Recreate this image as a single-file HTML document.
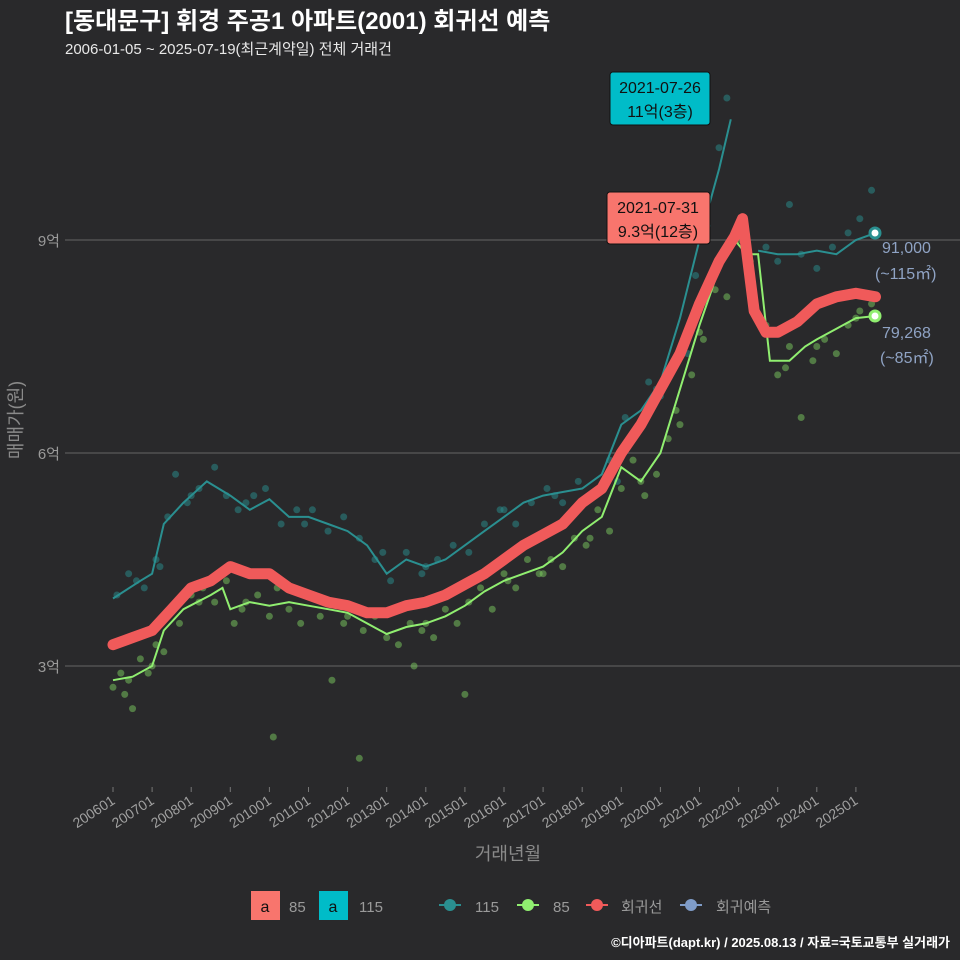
<!DOCTYPE html>
<html><head><meta charset="utf-8">
<style>
body{margin:0;background:#29292b;}
svg{display:block;font-family:"Liberation Sans","Noto Sans CJK KR",sans-serif;}
</style></head>
<body>
<svg id="chart" width="960" height="960" viewBox="0 0 960 960">
<rect width="960" height="960" fill="#29292b"/>
<text x="65" y="29" font-size="24" font-weight="bold" fill="#ffffff">[동대문구] 휘경 주공1 아파트(2001) 회귀선 예측</text>
<text x="65" y="54" font-size="15" fill="#e8e8e8">2006-01-05 ~ 2025-07-19(최근계약일) 전체 거래건</text>
<g id="grid"></g>
<g id="pts"></g>
<g id="lines"></g>
<g id="xaxis"></g>
<text transform="translate(22,420) rotate(-90)" text-anchor="middle" font-size="18" fill="#8a8a8a">매매가(원)</text>
<text x="508" y="860" text-anchor="middle" font-size="18" fill="#8a8a8a">거래년월</text>

<g>
<rect x="610" y="72" width="100" height="53" rx="3" fill="#00bcc8" stroke="#111"/>
<text x="660" y="93" text-anchor="middle" font-size="16" fill="#111">2021-07-26</text>
<text x="660" y="117" text-anchor="middle" font-size="16" fill="#111">11억(3층)</text>
</g>
<g>
<rect x="607" y="192" width="103" height="52" rx="3" fill="#f8756d" stroke="#111"/>
<text x="658" y="213" text-anchor="middle" font-size="16" fill="#111">2021-07-31</text>
<text x="658" y="237" text-anchor="middle" font-size="16" fill="#111">9.3억(12층)</text>
</g>
<g font-size="16" fill="#8fa3c4">
<text x="882" y="253">91,000</text>
<text x="875" y="279">(~115㎡)</text>
<text x="882" y="338">79,268</text>
<text x="880" y="363">(~85㎡)</text>
</g>
<circle cx="875" cy="233" r="5" fill="#fff" stroke="#2a8f90" stroke-width="3"/>
<circle cx="875" cy="316" r="5" fill="#fff" stroke="#90ee70" stroke-width="3"/>

<g font-size="15" fill="#9a9a9a">
<rect x="251" y="891" width="29" height="29" fill="#f8756d"/>
<text x="265" y="912" text-anchor="middle" fill="#111" font-size="16">a</text>
<text x="289" y="912">85</text>
<rect x="319" y="891" width="29" height="29" fill="#00bcc8"/>
<text x="333" y="912" text-anchor="middle" fill="#111" font-size="16">a</text>
<text x="359" y="912">115</text>
<line x1="439" y1="905" x2="461" y2="905" stroke="#2a8f90" stroke-width="2"/><circle cx="450" cy="905" r="6" fill="#2a8f90"/>
<text x="475" y="912">115</text>
<line x1="517" y1="905" x2="539" y2="905" stroke="#90ee70" stroke-width="2"/><circle cx="528" cy="905" r="6" fill="#90ee70"/>
<text x="553" y="912">85</text>
<line x1="586" y1="905" x2="608" y2="905" stroke="#f05a5a" stroke-width="2"/><circle cx="597" cy="905" r="6" fill="#f05a5a"/>
<text x="621" y="912">회귀선</text>
<line x1="680" y1="905" x2="702" y2="905" stroke="#7f9cc8" stroke-width="2"/><circle cx="691" cy="905" r="6" fill="#7f9cc8"/>
<text x="716" y="912">회귀예측</text>
</g>
<text x="950" y="947" text-anchor="end" font-size="13" font-weight="bold" fill="#ffffff">©디아파트(dapt.kr) / 2025.08.13 / 자료=국토교통부 실거래가</text>
</svg>
<script>
const yTicks=[3,6,9];
const yTickLabels=["3억","6억","9억"];
const xTickYears=[2006,2007,2008,2009,2010,2011,2012,2013,2014,2015,2016,2017,2018,2019,2020,2021,2022,2023,2024,2025];
const xTickLabels=["200601","200701","200801","200901","201001","201101","201201","201301","201401","201501","201601","201701","201801","201901","202001","202101","202201","202301","202401","202501"];
const regT=[2006.0,2006.5,2007.0,2007.5,2008.0,2008.5,2009.0,2009.5,2010.0,2010.5,2011.0,2011.5,2012.0,2012.5,2013.0,2013.5,2014.0,2014.5,2015.0,2015.5,2016.0,2016.5,2017.0,2017.5,2018.0,2018.5,2019.0,2019.5,2020.0,2020.5,2021.0,2021.5,2021.9,2022.1,2022.4,2022.7,2023.0,2023.5,2024.0,2024.5,2025.0,2025.5];
const regV=[3.3,3.4,3.5,3.8,4.1,4.2,4.4,4.3,4.3,4.1,4.0,3.9,3.85,3.75,3.75,3.85,3.9,4.0,4.15,4.3,4.5,4.7,4.85,5.0,5.3,5.5,6.0,6.4,6.9,7.4,8.1,8.7,9.05,9.3,8.0,7.7,7.7,7.85,8.1,8.2,8.25,8.2];
const l115T=[2006.0,2006.7,2007.0,2007.3,2007.8,2008.4,2009.0,2009.5,2010.0,2010.5,2011.0,2011.5,2012.0,2012.5,2013.0,2013.5,2014.0,2014.5,2015.0,2015.5,2016.0,2016.5,2017.0,2017.5,2018.0,2018.5,2019.0,2019.5,2020.0,2020.5,2021.0,2021.5,2021.8];
const l115V=[3.95,4.2,4.3,5.0,5.3,5.6,5.4,5.2,5.35,5.1,5.1,5.0,4.9,4.7,4.3,4.5,4.4,4.5,4.7,4.9,5.1,5.3,5.4,5.45,5.5,5.7,6.4,6.6,7.0,7.9,9.0,10.0,10.7];
const l115bT=[2022.5,2023.0,2023.5,2024.0,2024.5,2025.0,2025.5];
const l115bV=[8.85,8.8,8.8,8.85,8.8,9.0,9.1];
const l85T=[2006.0,2006.5,2007.0,2007.3,2007.8,2008.5,2008.8,2009.0,2009.5,2010.0,2010.5,2011.0,2011.5,2012.0,2012.5,2013.0,2013.5,2014.0,2014.5,2015.0,2015.5,2016.0,2016.5,2017.0,2017.5,2018.0,2018.5,2019.0,2019.5,2020.0,2020.5,2021.0,2021.5,2021.9,2022.2,2022.5,2022.8,2023.3,2023.7,2024.0,2024.5,2025.0,2025.5];
const l85V=[2.8,2.85,3.0,3.5,3.8,4.0,4.1,3.8,3.9,3.85,3.9,3.85,3.8,3.75,3.6,3.45,3.55,3.6,3.7,3.85,4.05,4.2,4.3,4.4,4.6,4.9,5.1,5.8,5.6,6.0,6.9,7.8,8.6,9.0,8.8,8.8,7.3,7.3,7.5,7.6,7.75,7.9,7.93];
const s115T=[2006.1,2006.4,2006.8,2007.1,2007.4,2007.6,2007.9,2008.2,2008.6,2008.9,2009.2,2009.6,2009.9,2010.3,2010.7,2011.1,2011.5,2011.9,2012.3,2012.7,2013.1,2013.5,2013.9,2014.3,2014.7,2015.1,2015.5,2015.9,2016.3,2016.7,2017.1,2017.5,2017.9,2018.3,2018.7,2019.1,2019.4,2019.7,2020.0,2020.3,2020.6,2020.9,2021.2,2021.5,2021.7,2022.7,2023.0,2023.3,2023.6,2024.0,2024.4,2024.8,2025.1,2025.4,2006.6,2007.2,2008.0,2009.4,2010.9,2012.9,2014.0,2016.0,2017.3,2018.9,2019.9,2020.7];
const s115V=[4.0,4.3,4.1,4.5,5.1,5.7,5.3,5.5,5.8,5.4,5.2,5.4,5.5,5.0,5.2,5.2,4.9,5.1,4.8,4.5,4.2,4.6,4.3,4.5,4.7,4.6,5.0,5.2,5.0,5.3,5.5,5.3,5.6,5.4,5.9,6.5,6.3,7.0,6.8,7.2,7.6,8.5,9.2,10.3,11.0,8.9,8.7,9.5,8.8,8.6,8.9,9.1,9.3,9.7,4.2,4.4,5.4,5.3,5.0,4.6,4.4,5.2,5.4,5.6,6.9,7.4];
const s85T=[2006.0,2006.2,2006.3,2006.5,2006.7,2006.9,2007.1,2007.3,2007.5,2007.7,2008.0,2008.3,2008.6,2008.9,2009.1,2009.4,2009.7,2010.0,2010.2,2010.5,2010.8,2011.0,2011.3,2011.6,2011.9,2012.1,2012.4,2012.7,2013.0,2013.3,2013.6,2013.9,2014.2,2014.5,2014.8,2015.1,2015.4,2015.7,2016.0,2016.3,2016.6,2016.9,2017.2,2017.5,2017.8,2018.1,2018.4,2018.7,2019.0,2019.3,2019.6,2019.9,2020.2,2020.5,2020.8,2021.1,2021.4,2021.7,2022.0,2022.3,2022.7,2023.0,2023.3,2023.6,2023.9,2024.2,2024.5,2024.8,2025.1,2025.4,2010.1,2011.6,2012.3,2015.0,2013.7,2006.4,2007.0,2008.2,2009.3,2012.0,2014.0,2016.1,2017.0,2018.2,2019.5,2020.4,2021.0,2023.2,2024.0,2025.0];
const s85V=[2.7,2.9,2.6,2.4,3.1,2.9,3.3,3.2,3.8,3.6,4.0,4.1,3.9,4.2,3.6,3.9,4.0,3.7,4.1,3.8,3.6,4.0,3.7,3.9,3.6,3.8,3.5,3.7,3.4,3.3,3.6,3.5,3.4,3.8,3.6,3.9,4.1,3.8,4.3,4.1,4.5,4.3,4.5,4.4,4.8,4.7,5.2,4.9,5.5,5.9,5.4,5.7,6.2,6.4,7.1,7.6,8.3,8.2,9.0,8.7,7.8,7.1,7.5,6.5,7.3,7.6,7.4,7.8,8.0,8.1,2.0,2.8,1.7,2.6,3.0,2.8,3.0,3.9,3.8,3.7,3.6,4.2,4.3,4.8,5.6,6.6,7.7,7.2,7.5,7.9];
const X=t=>113+(t-2006)*39.1;
const Y=v=>240+(9-v)*71;
const NS="http://www.w3.org/2000/svg";
function mk(tag,attrs,parent){const e=document.createElementNS(NS,tag);for(const k in attrs)e.setAttribute(k,attrs[k]);document.getElementById(parent).appendChild(e);return e;}
yTicks.forEach((v,i)=>{
 const l=mk('line',{x1:65,x2:960,y1:Y(v),y2:Y(v),stroke:'#5a5a5a','stroke-width':1.2},'grid');
 
 
 const t=mk('text',{x:60,y:Y(v)+6,'text-anchor':'end','font-size':15,fill:'#9a9a9a'},'grid');
 t.textContent=yTickLabels[i];
 
 
});
xTickYears.forEach((yr,i)=>{
 const x=X(yr);
 const tk=mk('line',{x1:x,x2:x,y1:787,y2:792,stroke:'#777'},'xaxis');
 
 
 const t=mk('text',{transform:`translate(${x+3},${803}) rotate(-33)`,'text-anchor':'end','font-size':14,fill:'#a0a0a0'},'xaxis');
 t.textContent=xTickLabels[i];
 
 
});
s115T.forEach((t,i)=>{
 const c=mk('circle',{cx:X(t),cy:Y(s115V[i]),r:3.5,fill:'#2a8f90','fill-opacity':0.5},'pts');
 
 
});
s85T.forEach((t,i)=>{
 const c=mk('circle',{cx:X(t),cy:Y(s85V[i]),r:3.5,fill:'#7ccc60','fill-opacity':0.5},'pts');
 
 
});
function path(T,V){return T.map((t,i)=>(i?'L':'M')+X(t).toFixed(1)+','+Y(V[i]).toFixed(1)).join('');}
const p1=mk('path',{d:path(l115T,l115V),fill:'none',stroke:'#2a8f90','stroke-width':2},'lines');


const p1b=mk('path',{d:path(l115bT,l115bV),fill:'none',stroke:'#2a8f90','stroke-width':2},'lines');


const p2=mk('path',{d:path(l85T,l85V),fill:'none',stroke:'#90ee70','stroke-width':2},'lines');


const p3=mk('path',{d:path(regT,regV),fill:'none',stroke:'#f05a5a','stroke-width':11,'stroke-linejoin':'round','stroke-linecap':'round'},'lines');


</script>
</body></html>
